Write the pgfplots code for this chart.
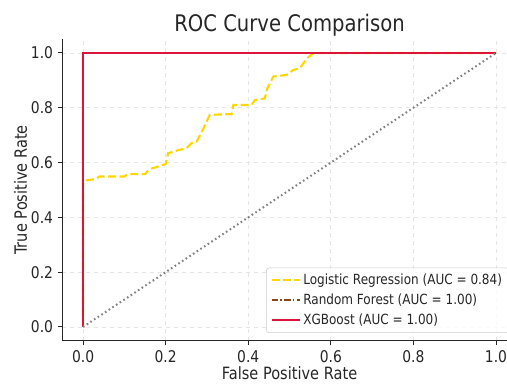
\documentclass[border=0pt]{standalone}
\usepackage{pgfplots}
\pgfplotsset{compat=1.18}
\usepackage{fontspec}
\setmainfont{DejaVu Sans}[FakeStretch=0.86]
\definecolor{lrgold}{HTML}{FFD700}
\definecolor{rfbrown}{HTML}{8B4513}
\definecolor{xgred}{HTML}{DC143C}
\begin{document}
\begin{tikzpicture}
\useasboundingbox (-46.8pt,-32.5pt) rectangle (333.45pt,255.5pt);
\clip (-46.8pt,-32.5pt) rectangle (333.45pt,255.5pt);
\begin{axis}[
  scale only axis,
  width=340.7pt, height=226.05pt,
  xmin=-0.05, xmax=1.05, ymin=-0.05, ymax=1.05,
  axis x line*=bottom, axis y line*=left,
  axis line style={black!85, line width=0.9pt},
  tick align=outside,
  major tick length=3.5pt,
  tick style={black!85, line width=0.7pt},
  xtick={0,0.2,0.4,0.6,0.8,1.0},
  ytick={0,0.2,0.4,0.6,0.8,1.0},
  xticklabel style={/pgf/number format/fixed, /pgf/number format/fixed zerofill, /pgf/number format/precision=1},
  yticklabel style={/pgf/number format/fixed, /pgf/number format/fixed zerofill, /pgf/number format/precision=1},
  /pgf/number format/assume math mode=true,
  ticklabel style={font=\fontsize{12.1}{14}\selectfont, text=black!85},
  grid=major,
  major grid style={dashed, black!10, line width=0.5pt},
  title={ROC Curve Comparison},
  title style={font=\fontsize{17.1}{20}\selectfont, text=black!85, yshift=-7pt},
  xlabel={False Positive Rate},
  ylabel={True Positive Rate},
  xlabel style={yshift=3.5pt},
  ylabel style={yshift=-4pt},
  label style={font=\fontsize{12.7}{15}\selectfont, text=black!85},
  legend style={at={(rel axis cs:1,0)}, anchor=south east, xshift=-5.8pt, yshift=5.8pt,
    draw=black!20, rounded corners=2pt, fill=white, fill opacity=0.8, text opacity=1,
    font=\fontsize{10.5}{12.5}\selectfont, text=black!85, row sep=1.6pt,
    inner xsep=3pt, inner ysep=2.5pt},
  legend cell align=left,
  legend image code/.code={\draw[#1] (0pt,0pt) -- (21pt,0pt);},
]
\addplot[color=lrgold, line width=1.6pt, dash pattern=on 6pt off 2.6pt] coordinates {
(0,0) (0,0.533) (0.030,0.540) (0.040,0.549) (0.100,0.549) (0.108,0.558) (0.150,0.558)
(0.160,0.575) (0.190,0.590) (0.200,0.595) (0.206,0.634) (0.230,0.645) (0.250,0.652)
(0.262,0.670) (0.275,0.676) (0.290,0.720) (0.307,0.774) (0.360,0.777) (0.364,0.810)
(0.408,0.810) (0.416,0.828) (0.440,0.834) (0.446,0.870) (0.461,0.914) (0.493,0.920)
(0.509,0.938) (0.525,0.944) (0.542,0.980) (0.554,0.995) (0.560,1.0) (1,1)
};
\addlegendentry{Logistic Regression (AUC = 0.84)}
\addplot[color=rfbrown, line width=1.6pt, dash pattern=on 5pt off 1.6pt on 1.2pt off 1.6pt] coordinates {
(0,0) (0,1) (1,1)
};
\addlegendentry{Random Forest (AUC = 1.00)}
\addplot[color=xgred, line width=1.6pt] coordinates {
(0,0) (0,1) (1,1)
};
\addlegendentry{XGBoost (AUC = 1.00)}
\addplot[color=gray, line width=1.5pt, dash pattern=on 1.2pt off 2.1pt, forget plot] coordinates {
(0,0) (1,1)
};
\end{axis}
\end{tikzpicture}
\end{document}
